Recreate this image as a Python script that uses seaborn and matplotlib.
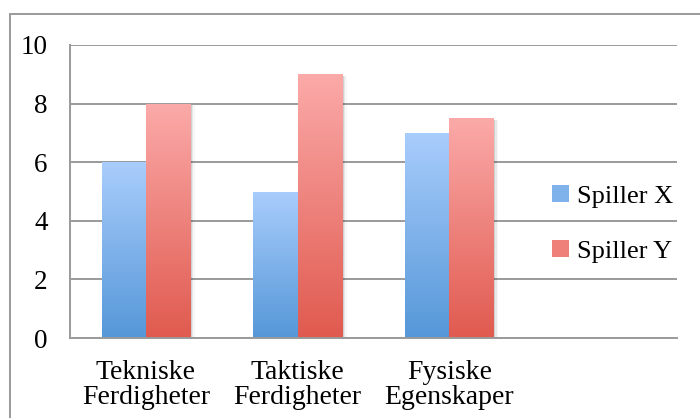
import numpy as np
import pandas as pd
import matplotlib
matplotlib.use("Agg")
import matplotlib.pyplot as plt
import seaborn as sns
from matplotlib.colors import LinearSegmentedColormap
from matplotlib.patches import Patch, Rectangle
from matplotlib.lines import Line2D

categories = ["Tekniske\nFerdigheter", "Taktiske\nFerdigheter", "Fysiske\nEgenskaper"]
series_names = ["Spiller X", "Spiller Y"]
spiller_x = [6, 5, 7]
spiller_y = [8, 9, 7.5]
y_ticks = [0, 2, 4, 6, 8, 10]

grad_colors = {
    "Spiller X": ("#a9cdfc", "#5597d8"),   # top, bottom
    "Spiller Y": ("#fbaaa9", "#e05a4f"),
}

sns.set_theme(style="white")
plt.rcParams["font.family"] = ["Liberation Serif", "DejaVu Serif"]
plt.rcParams["text.color"] = "black"
plt.rcParams["xtick.labelcolor"] = "black"
plt.rcParams["ytick.labelcolor"] = "black"

df = pd.DataFrame({
    "Kategori": categories * 2,
    "Serie": [series_names[0]] * 3 + [series_names[1]] * 3,
    "Verdi": spiller_x + spiller_y,
})

fig = plt.figure(figsize=(7, 4.18), dpi=100)
ax = fig.add_axes([70 / 700, 1 - 338 / 418, 607 / 700, (338 - 45) / 418])

sns.barplot(data=df, x="Kategori", y="Verdi", hue="Serie", order=categories,
            hue_order=series_names, width=0.583, ax=ax, legend=False,
            palette=["#7fb2ea", "#ee8079"], errorbar=None, saturation=1)

ax.set_xlim(-0.5, 3.5)
ax.set_ylim(0, 10)

# gradient fill for each bar
for name, cont in zip(series_names, ax.containers):
    top, bot = grad_colors[name]
    cmap = LinearSegmentedColormap.from_list(name, [bot, top])
    for bar in cont:
        x0, y0 = bar.get_x(), bar.get_y()
        w, h = bar.get_width(), bar.get_height()
        # subtle shadow on the right
        for k, a in [(0.012, 0.10), (0.022, 0.06), (0.032, 0.03)]:
            ax.add_patch(Rectangle((x0 + k, y0), w, h - 0.05, facecolor="black",
                                   alpha=a, edgecolor="none", zorder=1.5))
        grad = np.linspace(0, 1, 256).reshape(-1, 1)
        im = ax.imshow(grad, cmap=cmap, origin="lower", aspect="auto",
                       extent=[x0, x0 + w, y0, y0 + h], zorder=2.5)
        im.set_clip_path(bar)
        bar.set_facecolor("none")
        bar.set_edgecolor("none")
        bar.set_zorder(2.6)

ax.set_xlim(-0.5, 3.5)
ax.set_ylim(0, 10)

# gridlines
ax.set_yticks(y_ticks)
ax.set_yticklabels([str(t) for t in y_ticks], fontsize=19.5, color="black")
ax.yaxis.grid(True, color="#9a9a9a", linewidth=1.4)
ax.set_axisbelow(True)

ax.set_xticks([0, 1, 2])
ax.set_xticklabels(categories, fontsize=20, linespacing=1.0, color="black")
ax.set_xticks([-0.5, 0.5, 1.5, 2.5, 3.5], minor=True)
ax.tick_params(axis="x", which="major", length=0, pad=16)
ax.tick_params(axis="x", which="minor", length=8, width=1.2, color="#9a9a9a", direction="out")
ax.tick_params(axis="y", length=8, width=1.2, color="#9a9a9a", direction="out", pad=8)

for s in ["top", "right"]:
    ax.spines[s].set_visible(False)
for s in ["left", "bottom"]:
    ax.spines[s].set_color("#9a9a9a")
    ax.spines[s].set_linewidth(1.4)

ax.set_xlabel("")
ax.set_ylabel("")

handles = [Patch(facecolor="#7fb2ea", edgecolor="none"),
           Patch(facecolor="#ee8079", edgecolor="none")]
leg = ax.legend(handles, series_names, loc="center left",
                bbox_to_anchor=(0.755, 0.39), frameon=False, fontsize=19,
                handlelength=0.65, handleheight=0.65, handletextpad=0.3,
                labelspacing=1.2, labelcolor="black")

# outer chart border
fig.add_artist(Line2D([10 / 700, 10 / 700], [0, 1 - 14 / 418],
                      transform=fig.transFigure, color="#9a9a9a", linewidth=1.4))
fig.add_artist(Line2D([10 / 700, 1], [1 - 14 / 418, 1 - 14 / 418],
                      transform=fig.transFigure, color="#9a9a9a", linewidth=1.4))

fig.savefig("out.png", dpi=100)
